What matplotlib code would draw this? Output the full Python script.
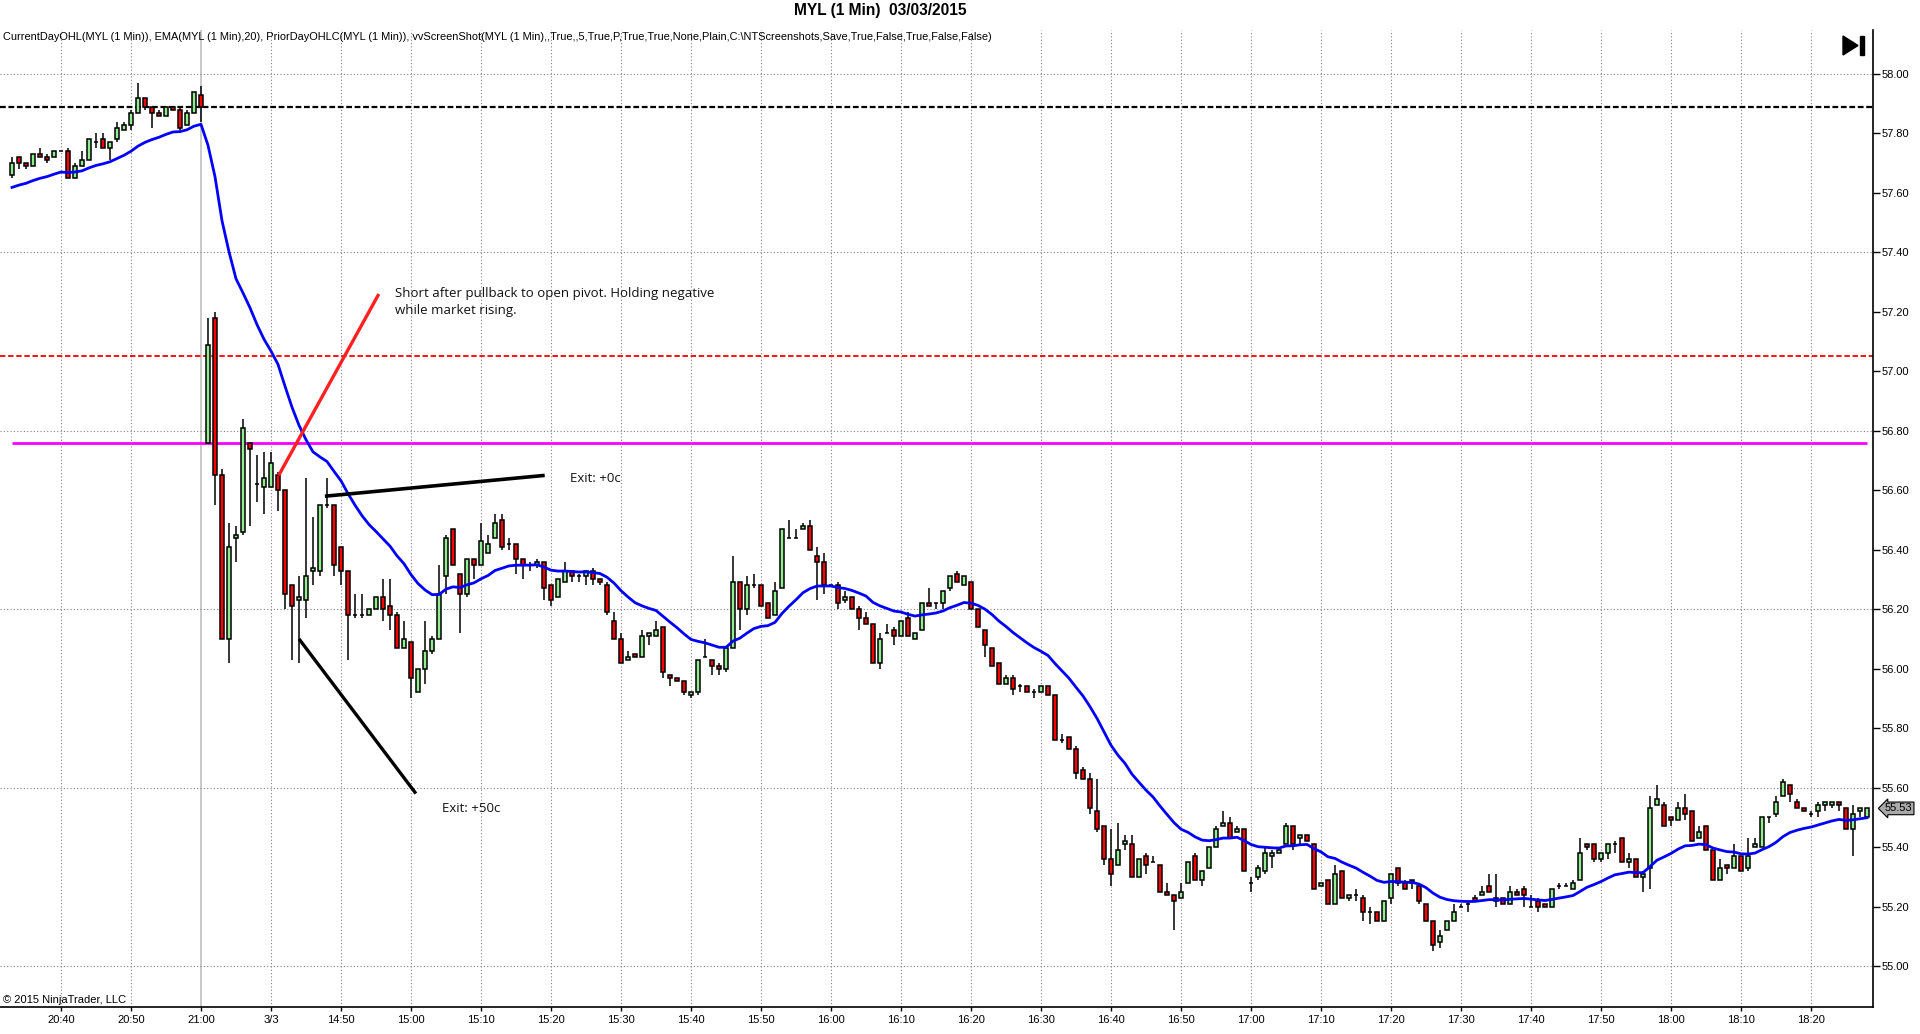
import numpy as np
import pandas as pd
import matplotlib
matplotlib.use("Agg")
import matplotlib.pyplot as plt
from matplotlib.patches import Polygon, Rectangle
from matplotlib.transforms import blended_transform_factory

# Datos OHLC de MYL (1 min)
aperturas = [
    57.66, 57.72, 57.70, 57.69, 57.73, 57.72, 57.72, 57.74, 57.74, 57.65,
    57.69, 57.71, 57.77, 57.78, 57.75, 57.78, 57.81, 57.83, 57.87, 57.92,
    57.89, 57.87, 57.86, 57.89, 57.88, 57.83, 57.87, 57.93, 56.76, 57.18,
    56.65, 56.10, 56.44, 56.46, 56.76, 56.62, 56.61, 56.61, 56.65, 56.60,
    56.28, 56.23, 56.23, 56.33, 56.33, 56.55, 56.55, 56.41, 56.33, 56.18,
    56.18, 56.18, 56.20, 56.24, 56.21, 56.18, 56.07, 56.09, 55.92, 56.00,
    56.06, 56.10, 56.31, 56.47, 56.32, 56.25, 56.37, 56.35, 56.39, 56.44,
    56.50, 56.42, 56.42, 56.37, 56.35, 56.35, 56.36, 56.28, 56.24, 56.29,
    56.33, 56.31, 56.31, 56.33, 56.30, 56.28, 56.16, 56.10, 56.03, 56.05,
    56.04, 56.11, 56.11, 56.14, 55.98, 55.97, 55.96, 55.91, 55.92, 56.04,
    56.03, 56.01, 56.00, 56.07, 56.29, 56.20, 56.28, 56.28, 56.22, 56.18,
    56.27, 56.44, 56.44, 56.47, 56.48, 56.38, 56.36, 56.28, 56.28, 56.23,
    56.24, 56.20, 56.17, 56.15, 56.02, 56.12, 56.13, 56.11, 56.17, 56.10,
    56.13, 56.22, 56.22, 56.22, 56.27, 56.32, 56.28, 56.29, 56.20, 56.13,
    56.07, 56.02, 55.95, 55.97, 55.94, 55.94, 55.92, 55.92, 55.94, 55.91,
    55.76, 55.77, 55.73, 55.66, 55.63, 55.52, 55.47, 55.36, 55.34, 55.41,
    55.41, 55.30, 55.37, 55.35, 55.34, 55.25, 55.24, 55.23, 55.28, 55.37,
    55.29, 55.33, 55.40, 55.47, 55.48, 55.45, 55.46, 55.28, 55.30, 55.32,
    55.37, 55.38, 55.41, 55.47, 55.43, 55.44, 55.41, 55.27, 55.29, 55.21,
    55.32, 55.23, 55.24, 55.23, 55.18, 55.18, 55.15, 55.23, 55.33, 55.28,
    55.29, 55.27, 55.21, 55.15, 55.08, 55.12, 55.15, 55.20, 55.21, 55.23,
    55.24, 55.27, 55.23, 55.23, 55.21, 55.25, 55.26, 55.20, 55.22, 55.21,
    55.20, 55.27, 55.27, 55.26, 55.29, 55.41, 55.41, 55.36, 55.38, 55.41,
    55.43, 55.35, 55.36, 55.30, 55.33, 55.54, 55.54, 55.50, 55.49, 55.53,
    55.52, 55.43, 55.47, 55.39, 55.29, 55.34, 55.33, 55.37, 55.33, 55.40,
    55.40, 55.50, 55.51, 55.57, 55.61, 55.55, 55.53, 55.51, 55.52, 55.54,
    55.54, 55.55, 55.53, 55.46, 55.52, 55.50,
]
maximos = [
    57.72, 57.72, 57.70, 57.73, 57.75, 57.73, 57.74, 57.74, 57.75, 57.70,
    57.74, 57.78, 57.80, 57.80, 57.77, 57.84, 57.84, 57.88, 57.97, 57.92,
    57.89, 57.88, 57.89, 57.89, 57.89, 57.88, 57.94, 57.96, 57.18, 57.20,
    56.67, 56.49, 56.48, 56.84, 56.76, 56.72, 56.73, 56.73, 56.66, 56.60,
    56.28, 56.31, 56.64, 56.51, 56.55, 56.64, 56.55, 56.41, 56.33, 56.25,
    56.25, 56.20, 56.24, 56.30, 56.30, 56.19, 56.16, 56.09, 56.00, 56.16,
    56.11, 56.35, 56.45, 56.47, 56.32, 56.37, 56.37, 56.49, 56.45, 56.52,
    56.52, 56.44, 56.42, 56.37, 56.36, 56.37, 56.36, 56.28, 56.30, 56.36,
    56.33, 56.32, 56.33, 56.34, 56.30, 56.29, 56.19, 56.12, 56.06, 56.05,
    56.13, 56.12, 56.16, 56.14, 55.98, 55.97, 55.96, 55.92, 56.03, 56.10,
    56.03, 56.02, 56.07, 56.38, 56.29, 56.31, 56.32, 56.28, 56.22, 56.29,
    56.47, 56.50, 56.47, 56.49, 56.50, 56.41, 56.39, 56.28, 56.29, 56.26,
    56.24, 56.21, 56.19, 56.15, 56.12, 56.15, 56.14, 56.16, 56.19, 56.12,
    56.22, 56.27, 56.22, 56.26, 56.31, 56.33, 56.31, 56.29, 56.20, 56.13,
    56.07, 56.02, 55.98, 55.98, 55.95, 55.94, 55.93, 55.94, 55.94, 55.91,
    55.78, 55.77, 55.74, 55.67, 55.65, 55.63, 55.47, 55.46, 55.48, 55.44,
    55.44, 55.36, 55.38, 55.37, 55.34, 55.28, 55.24, 55.28, 55.35, 55.38,
    55.32, 55.40, 55.47, 55.52, 55.50, 55.47, 55.46, 55.30, 55.34, 55.40,
    55.39, 55.40, 55.48, 55.47, 55.44, 55.44, 55.41, 55.28, 55.29, 55.34,
    55.32, 55.24, 55.26, 55.24, 55.20, 55.18, 55.22, 55.31, 55.33, 55.29,
    55.29, 55.28, 55.21, 55.15, 55.12, 55.15, 55.21, 55.21, 55.22, 55.24,
    55.27, 55.31, 55.31, 55.23, 55.27, 55.26, 55.27, 55.24, 55.23, 55.21,
    55.26, 55.28, 55.28, 55.29, 55.43, 55.41, 55.41, 55.38, 55.41, 55.42,
    55.43, 55.38, 55.36, 55.32, 55.57, 55.61, 55.55, 55.50, 55.55, 55.58,
    55.52, 55.47, 55.47, 55.39, 55.36, 55.34, 55.41, 55.37, 55.43, 55.43,
    55.50, 55.50, 55.57, 55.63, 55.61, 55.56, 55.53, 55.52, 55.55, 55.55,
    55.55, 55.55, 55.53, 55.54, 55.53, 55.53,
]
minimos = [
    57.65, 57.68, 57.68, 57.69, 57.72, 57.70, 57.72, 57.74, 57.65, 57.65,
    57.69, 57.71, 57.75, 57.75, 57.71, 57.77, 57.81, 57.81, 57.87, 57.88,
    57.82, 57.86, 57.86, 57.88, 57.81, 57.83, 57.87, 57.84, 56.76, 56.55,
    56.10, 56.02, 56.36, 56.45, 56.48, 56.56, 56.52, 56.61, 56.53, 56.20,
    56.03, 56.02, 56.17, 56.28, 56.31, 56.54, 56.31, 56.28, 56.03, 56.17,
    56.17, 56.18, 56.20, 56.16, 56.13, 56.07, 56.07, 55.90, 55.92, 55.95,
    56.05, 56.10, 56.25, 56.35, 56.12, 56.24, 56.30, 56.35, 56.39, 56.44,
    56.40, 56.40, 56.32, 56.30, 56.33, 56.34, 56.23, 56.21, 56.24, 56.29,
    56.29, 56.29, 56.28, 56.28, 56.28, 56.18, 56.10, 56.02, 56.03, 56.04,
    56.04, 56.08, 56.11, 55.97, 55.94, 55.96, 55.91, 55.90, 55.91, 56.04,
    55.98, 55.98, 55.99, 56.07, 56.13, 56.18, 56.27, 56.21, 56.17, 56.18,
    56.27, 56.44, 56.44, 56.47, 56.40, 56.23, 56.25, 56.28, 56.20, 56.22,
    56.20, 56.13, 56.15, 56.02, 56.00, 56.12, 56.08, 56.11, 56.11, 56.10,
    56.13, 56.21, 56.20, 56.20, 56.26, 56.29, 56.28, 56.20, 56.14, 56.04,
    56.01, 55.95, 55.95, 55.91, 55.92, 55.92, 55.90, 55.92, 55.91, 55.76,
    55.75, 55.73, 55.63, 55.63, 55.51, 55.45, 55.34, 55.27, 55.34, 55.39,
    55.30, 55.30, 55.31, 55.35, 55.25, 55.24, 55.12, 55.23, 55.28, 55.29,
    55.27, 55.33, 55.40, 55.47, 55.43, 55.45, 55.32, 55.25, 55.29, 55.31,
    55.33, 55.38, 55.41, 55.39, 55.41, 55.42, 55.26, 55.27, 55.21, 55.21,
    55.23, 55.22, 55.22, 55.15, 55.14, 55.15, 55.15, 55.21, 55.27, 55.26,
    55.26, 55.21, 55.15, 55.05, 55.06, 55.12, 55.15, 55.20, 55.18, 55.22,
    55.24, 55.25, 55.20, 55.21, 55.21, 55.24, 55.20, 55.20, 55.18, 55.20,
    55.20, 55.26, 55.27, 55.26, 55.29, 55.39, 55.35, 55.35, 55.36, 55.38,
    55.35, 55.33, 55.30, 55.25, 55.26, 55.54, 55.47, 55.47, 55.49, 55.49,
    55.42, 55.43, 55.39, 55.29, 55.29, 55.31, 55.33, 55.32, 55.32, 55.40,
    55.40, 55.48, 55.50, 55.57, 55.55, 55.53, 55.52, 55.50, 55.50, 55.52,
    55.53, 55.52, 55.46, 55.37, 55.50, 55.50,
]
cierres = [
    57.70, 57.70, 57.69, 57.73, 57.72, 57.71, 57.74, 57.74, 57.65, 57.69,
    57.71, 57.78, 57.77, 57.75, 57.77, 57.82, 57.83, 57.87, 57.92, 57.89,
    57.87, 57.86, 57.89, 57.88, 57.82, 57.87, 57.94, 57.89, 57.09, 56.65,
    56.10, 56.41, 56.45, 56.81, 56.74, 56.62, 56.64, 56.69, 56.60, 56.25,
    56.21, 56.24, 56.31, 56.34, 56.55, 56.55, 56.35, 56.33, 56.18, 56.18,
    56.18, 56.20, 56.24, 56.20, 56.18, 56.07, 56.10, 55.97, 56.00, 56.06,
    56.10, 56.25, 56.44, 56.35, 56.25, 56.37, 56.35, 56.43, 56.42, 56.49,
    56.41, 56.42, 56.37, 56.35, 56.35, 56.36, 56.27, 56.23, 56.30, 56.33,
    56.31, 56.31, 56.33, 56.30, 56.29, 56.19, 56.10, 56.02, 56.04, 56.04,
    56.11, 56.12, 56.13, 55.99, 55.97, 55.96, 55.92, 55.92, 56.03, 56.04,
    56.01, 56.00, 56.07, 56.29, 56.20, 56.28, 56.28, 56.21, 56.17, 56.26,
    56.47, 56.44, 56.44, 56.48, 56.40, 56.36, 56.28, 56.28, 56.22, 56.24,
    56.20, 56.17, 56.15, 56.02, 56.10, 56.12, 56.11, 56.16, 56.11, 56.12,
    56.22, 56.21, 56.22, 56.26, 56.31, 56.29, 56.31, 56.20, 56.14, 56.08,
    56.01, 55.95, 55.97, 55.93, 55.94, 55.92, 55.92, 55.94, 55.91, 55.76,
    55.76, 55.73, 55.65, 55.63, 55.53, 55.46, 55.36, 55.31, 55.39, 55.42,
    55.30, 55.36, 55.34, 55.35, 55.25, 55.24, 55.22, 55.25, 55.35, 55.29,
    55.32, 55.40, 55.46, 55.48, 55.43, 55.46, 55.32, 55.28, 55.33, 55.38,
    55.38, 55.39, 55.47, 55.41, 55.44, 55.42, 55.26, 55.28, 55.21, 55.31,
    55.23, 55.24, 55.24, 55.18, 55.18, 55.15, 55.22, 55.31, 55.28, 55.26,
    55.28, 55.22, 55.15, 55.07, 55.10, 55.15, 55.18, 55.20, 55.21, 55.22,
    55.25, 55.25, 55.22, 55.21, 55.25, 55.24, 55.24, 55.20, 55.20, 55.20,
    55.26, 55.27, 55.27, 55.28, 55.38, 55.40, 55.36, 55.38, 55.41, 55.41,
    55.35, 55.36, 55.30, 55.31, 55.53, 55.56, 55.47, 55.49, 55.53, 55.51,
    55.42, 55.45, 55.39, 55.29, 55.33, 55.33, 55.37, 55.32, 55.37, 55.41,
    55.50, 55.50, 55.55, 55.62, 55.58, 55.53, 55.52, 55.51, 55.54, 55.55,
    55.55, 55.54, 55.46, 55.51, 55.53, 55.53,
]

# EMA(20): valor previo al primer bar
ema_previa = 57.61
periodo_ema = 20

# Niveles de los indicadores
cierre_dia_previo = 57.89
minimo_dia_previo = 57.05
apertura_dia = 56.76
ultimo_precio = 55.53

# Sesiones (hora del grafico)
sesion_1 = ("2015-03-02 20:33", "2015-03-02 21:00")
sesion_2 = ("2015-03-03 14:31", "2015-03-03 18:28")

# Anotaciones dibujadas a mano (indice de barra, precio)
linea_roja_x = [38.1, 52.4]
linea_roja_y = [56.65, 57.26]
linea_salida0_x = [44.7, 76.1]
linea_salida0_y = [56.58, 56.65]
linea_salida50_x = [41.0, 57.7]
linea_salida50_y = [56.10, 55.58]
nota_texto = "Short after pullback to open pivot. Holding negative\nwhile market rising."
nota_pos = (54.7, 57.285)
salida0_texto = "Exit: +0c"
salida0_pos = (79.7, 56.64)
salida50_texto = "Exit: +50c"
salida50_pos = (61.4, 55.53)

titulo = "MYL (1 Min)  03/03/2015"
indicadores = ("CurrentDayOHL(MYL (1 Min)), EMA(MYL (1 Min),20), PriorDayOHLC(MYL (1 Min)), "
               "vvScreenShot(MYL (1 Min),,True,,5,True,P,True,True,None,Plain,C:\\NTScreenshots,"
               "Save,True,False,True,False,False)")
copyright_txt = "\u00a9 2015 NinjaTrader, LLC"

plt.rcParams["font.family"] = ["Liberation Sans", "DejaVu Sans"]
fuente_estrecha = ["Liberation Sans Narrow", "Liberation Sans", "DejaVu Sans"]

o = np.array(aperturas)
h = np.array(maximos)
l = np.array(minimos)
c = np.array(cierres)
n = len(c)
x = np.arange(n)

# tiempos de cada barra
tiempos = list(pd.date_range(*sesion_1, freq="min")) + list(pd.date_range(*sesion_2, freq="min"))

# EMA calculada sobre los cierres
ema = []
prev = ema_previa
alfa = 2.0 / (periodo_ema + 1)
for v in c:
    prev = prev + alfa * (v - prev)
    ema.append(prev)

W, H = 1920, 1034
fig = plt.figure(figsize=(W / 100, H / 100), dpi=100)
ax = fig.add_axes([0, 27 / H, 1873 / W, 977 / H])
ax.set_xlim(-12 / 7, (1873 - 12) / 7)
ax.set_ylim(54.862, 58.148)

# rejilla
marcas = []
etiquetas = []
dia_anterior = tiempos[0].day
for i, t in enumerate(tiempos):
    if t.minute % 10 == 0:
        if t.day != dia_anterior:
            etiquetas.append(f"{t.month}/{t.day}")
            dia_anterior = t.day
        else:
            etiquetas.append(t.strftime("%H:%M"))
        marcas.append(i)
for i in marcas:
    if tiempos[i].hour == 21:
        ax.axvline(i, color="#c0c0c0", lw=1.2, zorder=1)
    else:
        ax.axvline(i, color="#808080", lw=0.8, ls=(0, (1, 2)), zorder=1)
for y in np.arange(55.0, 58.01, 0.6):
    ax.axhline(y, color="#808080", lw=0.8, ls=(0, (1, 2)), zorder=1)

# niveles
ax.axhline(cierre_dia_previo, color="black", lw=1.6, ls=(0, (2.6, 1.2)), zorder=2)
ax.axhline(minimo_dia_previo, color="#ff0000", lw=1.3, ls=(0, (3, 1.5)), zorder=2)
ax.hlines(apertura_dia, 0, n - 1, color="#ff00ff", lw=2, zorder=2)

# velas
colores = ["#90ee90" if ci >= oi else "#ff0000" for oi, ci in zip(o, c)]
ax.vlines(x, l, h, color="black", lw=1.1, zorder=3)
ax.bar(x, np.abs(c - o), bottom=np.minimum(o, c), width=0.68, color=colores,
       edgecolor="black", linewidth=1.1, zorder=4)

ax.plot(x, ema, color="#0000ff", lw=2, zorder=5)

# anotaciones
ax.plot(linea_roja_x, linea_roja_y, color="#ff2020", lw=2.4, zorder=6, solid_capstyle="butt")
ax.plot(linea_salida0_x, linea_salida0_y, color="black", lw=2.6, zorder=6, solid_capstyle="butt")
ax.plot(linea_salida50_x, linea_salida50_y, color="black", lw=2.4, zorder=6, solid_capstyle="butt")
ax.text(*nota_pos, nota_texto, fontsize=9.5, family=["Open Sans", "DejaVu Sans"],
        va="top", ha="left", linespacing=1.45, color="#111111")
ax.text(*salida0_pos, salida0_texto, fontsize=9.5, family=["Open Sans", "DejaVu Sans"],
        va="center", ha="left", color="#111111")
ax.text(*salida50_pos, salida50_texto, fontsize=9.5, family=["Open Sans", "DejaVu Sans"],
        va="center", ha="left", color="#111111")

# ejes
for lado in ["left", "top"]:
    ax.spines[lado].set_visible(False)
for lado in ["right", "bottom"]:
    ax.spines[lado].set_color("black")
    ax.spines[lado].set_linewidth(1.2)
ax.yaxis.tick_right()
yt = np.round(np.arange(55.0, 58.01, 0.2), 2)
ax.set_yticks(yt)
ax.set_yticklabels([f"{v:.2f}" for v in yt])
ax.set_xticks(marcas)
ax.set_xticklabels(etiquetas)
ax.tick_params(axis="y", length=5, width=1, pad=1.5, labelsize=8, colors="black")
ax.tick_params(axis="x", length=3, width=1, pad=3, labelsize=8, colors="black")

# ultimo precio
mezcla = blended_transform_factory(ax.transAxes, ax.transData)
ax.text(1 + 12 / 1873, ultimo_precio, f"{ultimo_precio:.2f}", transform=mezcla, fontsize=8,
        va="center", ha="left", clip_on=False,
        bbox=dict(boxstyle="larrow,pad=0.12", fc="#a9a9a9", ec="black", lw=0.8))

# textos de cabecera
fig.text(880 / W, 1 - 11 / H, titulo, ha="center", va="center", fontsize=11.2,
         fontweight="bold", family=fuente_estrecha)
fig.text(3 / W, 1 - 37 / H, indicadores, ha="left", va="center", fontsize=7.9,
         family=fuente_estrecha)
fig.text(3 / W, 1 - 1000 / H, copyright_txt, ha="left", va="center", fontsize=8,
         family=fuente_estrecha)

# boton "ir al final"
tri = Polygon([[1843 / W, 1 - 36 / H], [1843 / W, 1 - 55 / H], [1858 / W, 1 - 45.5 / H]],
              closed=True, transform=fig.transFigure, color="black")
barra = Rectangle((1860 / W, 1 - 55 / H), 4 / W, 19 / H, transform=fig.transFigure, color="black")
fig.patches.extend([tri, barra])

fig.savefig("out.png", dpi=100)
